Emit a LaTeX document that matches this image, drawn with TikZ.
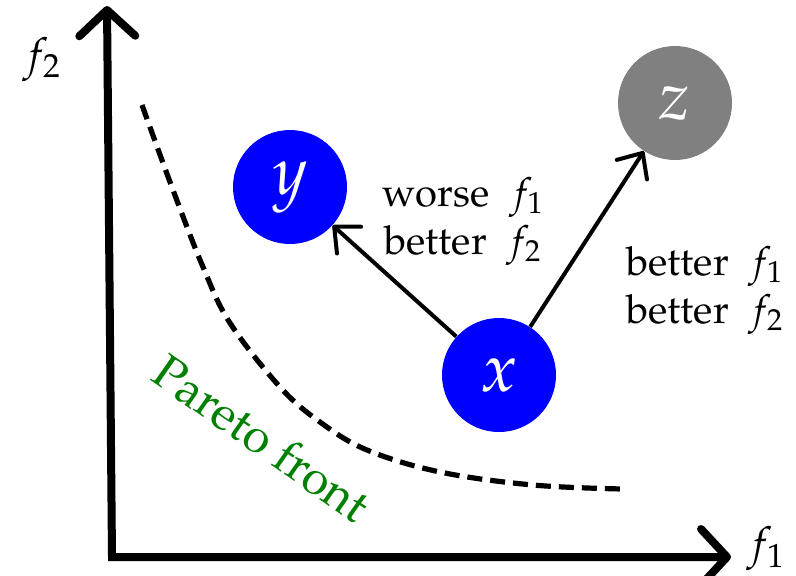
\documentclass[tikz,border=0pt]{standalone}
\usepackage[T1]{fontenc}
\usepackage{mathpazo}
\usetikzlibrary{arrows.meta}
\definecolor{paretogreen}{RGB}{0,128,0}
\definecolor{zgray}{RGB}{128,128,128}
\tikzset{
  axisline/.style={line width=4pt, line join=miter,
    {Straight Barb[length=13pt,width=28pt,line cap=round,line join=round]}-{Straight Barb[length=13pt,width=28pt,line cap=round,line join=round]}},
  relarrow/.style={line width=2pt, -{Straight Barb[length=10pt,width=18pt,line cap=round,line join=round]}},
  pt/.style={circle, minimum size=57pt, inner sep=0pt, text=white, font=\fontsize{34}{40}\selectfont},
  lbl/.style={align=center, font=\fontsize{20}{24}\selectfont},
  axlbl/.style={font=\fontsize{22}{26}\selectfont},
}
\begin{document}
\begin{tikzpicture}[x=0.5pt,y=-0.5pt]
\useasboundingbox (0,0) rectangle (796,575);
% axes
\coordinate (ytop) at (107,6);
\coordinate (origin) at (112,557);
\coordinate (xend) at (731,557);
\draw[axisline] (ytop) -- (origin) -- (xend);
\node[axlbl] (f2) at (42,60) {$f_2$};
\node[axlbl] (f1) at (766,549) {$f_1$};
% pareto front
\draw[line width=2.6pt, dash pattern=on 7.5pt off 4pt]
  plot[smooth, tension=0.6] coordinates {(142,105) (173,190) (203,267) (230,323) (280,387) (320,422) (367,450) (440,472) (533,485) (623,489)};
\node[text=paretogreen, rotate=-35, font=\fontsize{24}{28}\selectfont] (pf) at (262,438) {Pareto front};
% points
\node[pt, fill=blue] (y) at (290,187) {$y$};
\node[pt, fill=blue] (x) at (499,375) {$x$};
\node[pt, fill=zgray] (z) at (675,103) {$z$};
\draw[relarrow] (x) -- (y);
\draw[relarrow] (x) -- (z);
\node[lbl] (wl) at (463,221) {worse~~$f_1$\\better~~$f_2$};
\node[lbl] (bl) at (705,290) {better~~$f_1$\\better~~$f_2$};
\end{tikzpicture}
\end{document}
